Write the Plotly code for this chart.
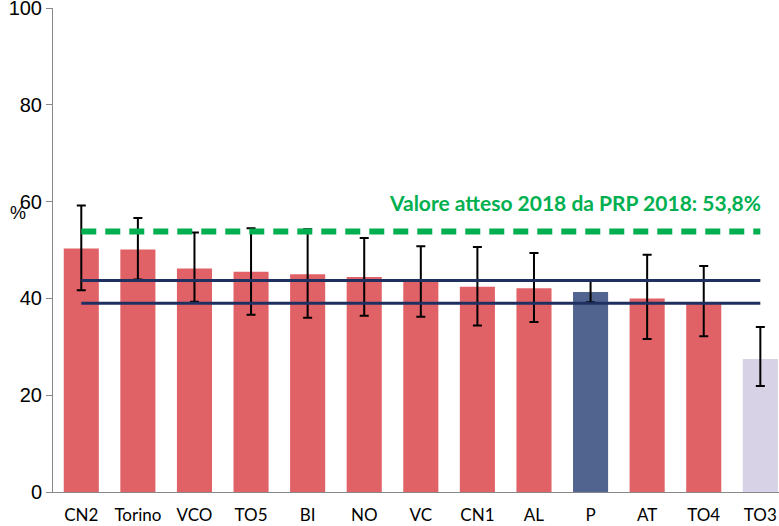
import plotly.graph_objects as go

categories = ["CN2", "Torino", "VCO", "TO5", "BI", "NO", "VC", "CN1", "AL", "P", "AT", "TO4", "TO3"]
values = [50.3, 50.1, 46.2, 45.5, 45.0, 44.4, 43.6, 42.4, 42.1, 41.3, 40.0, 39.0, 27.5]
ci_low = [41.7, 43.9, 39.3, 36.6, 36.0, 36.4, 36.2, 34.4, 35.1, 39.2, 31.6, 32.2, 21.9]
ci_high = [59.2, 56.6, 53.6, 54.5, 54.3, 52.5, 50.8, 50.6, 49.4, 43.6, 49.0, 46.7, 34.1]
regional_ci = [43.7, 39.0]
target_value = 53.8
target_label = "Valore atteso 2018 da PRP 2018: 53,8%"

colors = []
for c in categories:
    if c == "P":
        colors.append("#50648f")
    elif c == "TO3":
        colors.append("#d8d2e6")
    else:
        colors.append("#e06267")

err_plus = [h - v for h, v in zip(ci_high, values)]
err_minus = [v - l for v, l in zip(values, ci_low)]

fig = go.Figure()
fig.add_trace(go.Bar(
    x=categories, y=values, marker=dict(color=colors, line=dict(width=0)),
    width=0.62,
    error_y=dict(type="data", symmetric=False, array=err_plus, arrayminus=err_minus,
                 color="black", thickness=2, width=4.5),
    showlegend=False,
))

for v in regional_ci:
    fig.add_trace(go.Scatter(
        x=[categories[0], categories[-1]], y=[v, v], mode="lines",
        line=dict(color="#1f3060", width=3), showlegend=False, hoverinfo="skip",
    ))

fig.add_trace(go.Scatter(
    x=[categories[0], categories[-1]], y=[target_value, target_value], mode="lines",
    line=dict(color="#00b050", width=6, dash="15px,9px"), showlegend=False, hoverinfo="skip",
))

fig.add_annotation(
    x=categories[-1], y=target_value, xref="x", yref="y",
    text="<b>" + target_label + "</b>", showarrow=False,
    xanchor="right", yanchor="bottom", yshift=15, xshift=3,
    font=dict(family="Lato, Open Sans, sans-serif", size=21, color="#00b050"),
)

fig.add_annotation(
    x=(18 - 53) / (779 - 53), y=(492 - 213) / (492 - 8), xref="paper", yref="paper",
    text="%", showarrow=False, xanchor="center", yanchor="middle",
    font=dict(family="Liberation Sans, Arial, sans-serif", size=18, color="black"),
)

fig.update_layout(
    width=779, height=526,
    margin=dict(l=53, r=0, t=8, b=34, autoexpand=False),
    plot_bgcolor="white", paper_bgcolor="white",
    xaxis=dict(
        type="category", range=[-0.5, 12.33], showgrid=False, automargin=False,
        showline=True, linecolor="#888888", linewidth=1,
        ticks="", ticklabelstandoff=8,
        tickfont=dict(family="Lato, Open Sans, sans-serif", size=17, color="black"),
        fixedrange=True,
    ),
    yaxis=dict(
        range=[0, 100], tickvals=[0, 20, 40, 60, 80, 100], showgrid=False, automargin=False,
        showline=True, linecolor="#888888", linewidth=1,
        ticks="outside", ticklen=6, tickcolor="#888888",
        ticklabeloverflow="allow",
        tickfont=dict(family="Liberation Sans, Arial, sans-serif", size=20, color="black"),
        zeroline=False,
    ),
)

fig.write_html("out.html")
